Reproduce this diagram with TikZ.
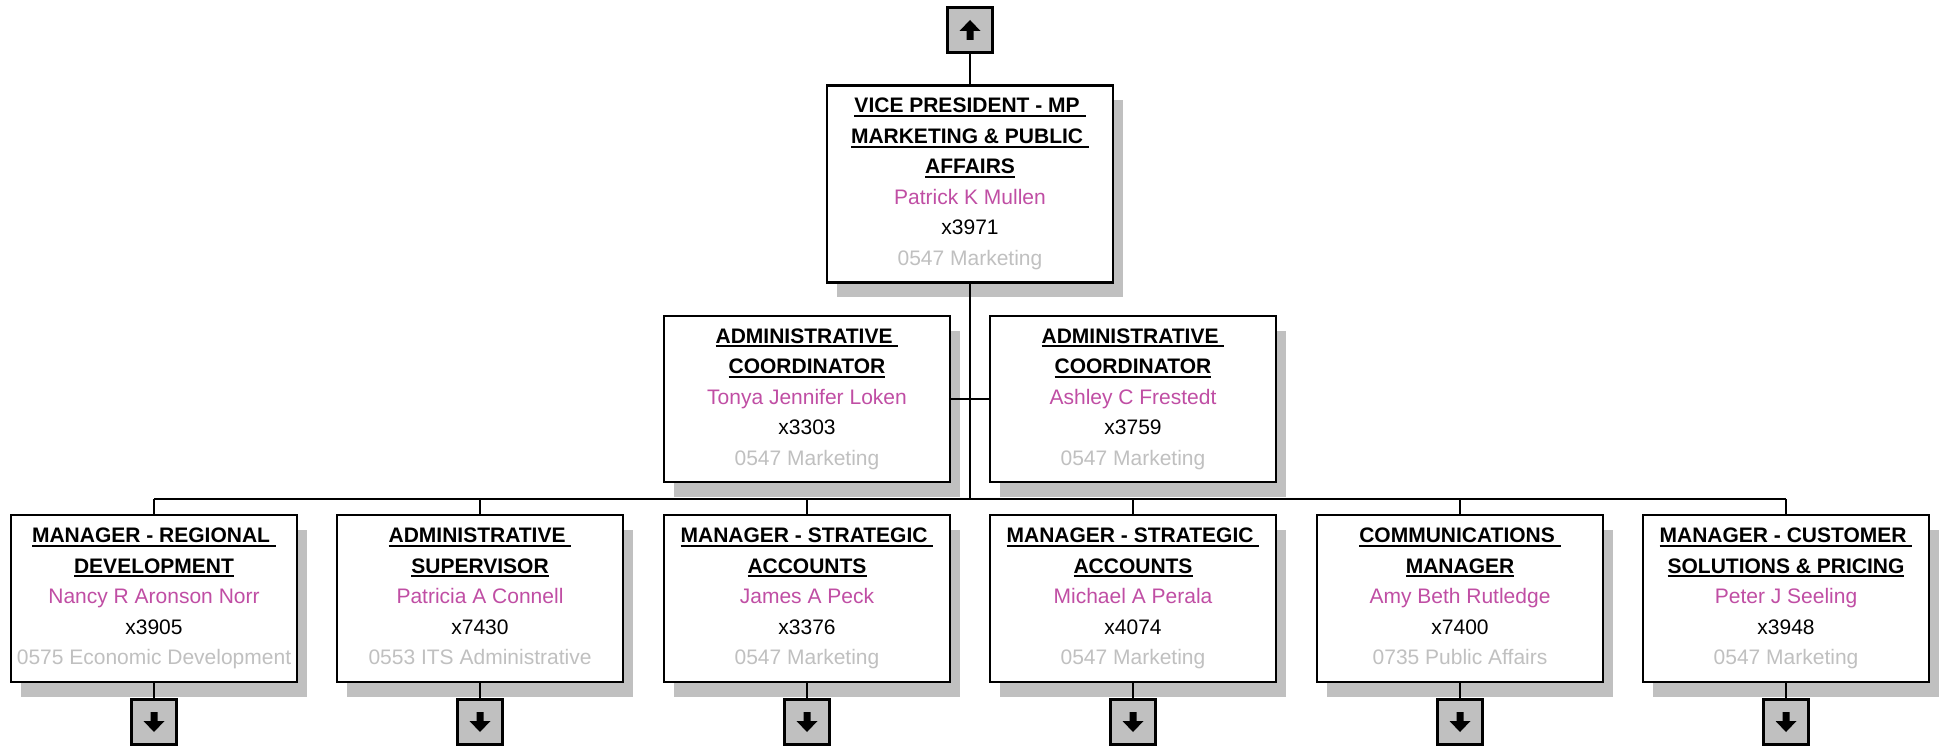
\documentclass[tikz,border=0pt]{standalone}
\usepackage{fontspec}
\setmainfont{Liberation Sans}
\usepackage{tikz}
\usetikzlibrary{shadows}

\definecolor{namepink}{RGB}{192,78,164}
\definecolor{deptgray}{RGB}{192,192,192}
\definecolor{shadowgray}{RGB}{192,192,192}

\newcommand{\titleline}[1]{\setbox0\hbox{\bfseries #1}\rlap{\rule[-2.1pt]{\wd0}{1pt}}\box0}

\begin{document}
\begin{tikzpicture}[x=0.5pt, y=-0.5pt,
    postbox/.style={draw, line width=1.1pt, fill=white, align=center, inner sep=0pt,
        minimum width=143pt, font=\fontsize{10.5}{15.25}\selectfont,
        general shadow={fill=shadowgray, shadow xshift=5pt, shadow yshift=-7.5pt}},
    navbox/.style={draw, line width=1.1pt, fill=shadowgray, minimum size=22.5pt, inner sep=0pt},
    blockarrow/.pic={\fill (0,-10) -- (10.5,1) -- (3.5,1) -- (3.5,10) -- (-3.5,10) -- (-3.5,1) -- (-10.5,1) -- cycle;}]
    \useasboundingbox (0,0) rectangle (1942,747);

    % Up link
    \node[navbox] (up) at (970,30) {};
    \pic at (up) {blockarrow};

    % Vice president
    \node[postbox, minimum height=98.5pt] (vp) at (970,184)
        {\titleline{VICE PRESIDENT - MP }\\\titleline{MARKETING \& PUBLIC }\\\titleline{AFFAIRS}\\
         \textcolor{namepink}{Patrick K Mullen}\\x3971\\\textcolor{deptgray}{0547 Marketing}};

    % Assistants
    \node[postbox, minimum height=83pt] (coord1) at (807,399)
        {\titleline{ADMINISTRATIVE }\\\titleline{COORDINATOR}\\
         \textcolor{namepink}{Tonya Jennifer Loken}\\x3303\\\textcolor{deptgray}{0547 Marketing}};
    \node[postbox, minimum height=83pt] (coord2) at (1133,399)
        {\titleline{ADMINISTRATIVE }\\\titleline{COORDINATOR}\\
         \textcolor{namepink}{Ashley C Frestedt}\\x3759\\\textcolor{deptgray}{0547 Marketing}};

    % Direct reports
    \node[postbox, minimum height=83.5pt] (mgr1) at (154,598.5)
        {\titleline{MANAGER - REGIONAL }\\\titleline{DEVELOPMENT}\\
         \textcolor{namepink}{Nancy R Aronson Norr}\\x3905\\\textcolor{deptgray}{0575 Economic Development\vphantom{g}}};
    \node[postbox, minimum height=83.5pt] (mgr2) at (480,598.5)
        {\titleline{ADMINISTRATIVE }\\\titleline{SUPERVISOR}\\
         \textcolor{namepink}{Patricia A Connell}\\x7430\\\textcolor{deptgray}{0553 ITS Administrative\vphantom{g}}};
    \node[postbox, minimum height=83.5pt] (mgr3) at (807,598.5)
        {\titleline{MANAGER - STRATEGIC }\\\titleline{ACCOUNTS}\\
         \textcolor{namepink}{James A Peck}\\x3376\\\textcolor{deptgray}{0547 Marketing}};
    \node[postbox, minimum height=83.5pt] (mgr4) at (1133,598.5)
        {\titleline{MANAGER - STRATEGIC }\\\titleline{ACCOUNTS}\\
         \textcolor{namepink}{Michael A Perala}\\x4074\\\textcolor{deptgray}{0547 Marketing}};
    \node[postbox, minimum height=83.5pt] (mgr5) at (1460,598.5)
        {\titleline{COMMUNICATIONS }\\\titleline{MANAGER}\\
         \textcolor{namepink}{Amy Beth Rutledge}\\x7400\\\textcolor{deptgray}{0735 Public Affairs\vphantom{g}}};
    \node[postbox, minimum height=83.5pt] (mgr6) at (1786,598.5)
        {\titleline{MANAGER - CUSTOMER }\\\titleline{SOLUTIONS \& PRICING}\\
         \textcolor{namepink}{Peter J Seeling}\\x3948\\\textcolor{deptgray}{0547 Marketing}};

    % Down links
    \node[navbox] (down1) at (154,722) {};
    \node[navbox] (down2) at (480,722) {};
    \node[navbox] (down3) at (807,722) {};
    \node[navbox] (down4) at (1133,722) {};
    \node[navbox] (down5) at (1460,722) {};
    \node[navbox] (down6) at (1786,722) {};
    \pic[rotate=180] at (down1) {blockarrow};
    \pic[rotate=180] at (down2) {blockarrow};
    \pic[rotate=180] at (down3) {blockarrow};
    \pic[rotate=180] at (down4) {blockarrow};
    \pic[rotate=180] at (down5) {blockarrow};
    \pic[rotate=180] at (down6) {blockarrow};

    % Reporting lines
    \coordinate (bus) at (970,499);
    \draw[line width=1pt] (up) -- (vp);
    \draw[line width=1pt] (vp) -- (bus);
    \draw[line width=1pt] (coord1) -- (coord2);
    \draw[line width=1pt] (mgr1.north |- bus) -- (mgr6.north |- bus);
    \draw[line width=1pt] (mgr1) -- (mgr1.north |- bus);
    \draw[line width=1pt] (mgr2) -- (mgr2.north |- bus);
    \draw[line width=1pt] (mgr3) -- (mgr3.north |- bus);
    \draw[line width=1pt] (mgr4) -- (mgr4.north |- bus);
    \draw[line width=1pt] (mgr5) -- (mgr5.north |- bus);
    \draw[line width=1pt] (mgr6) -- (mgr6.north |- bus);
    \draw[line width=1pt] (mgr1) -- (down1);
    \draw[line width=1pt] (mgr2) -- (down2);
    \draw[line width=1pt] (mgr3) -- (down3);
    \draw[line width=1pt] (mgr4) -- (down4);
    \draw[line width=1pt] (mgr5) -- (down5);
    \draw[line width=1pt] (mgr6) -- (down6);
\end{tikzpicture}
\end{document}
